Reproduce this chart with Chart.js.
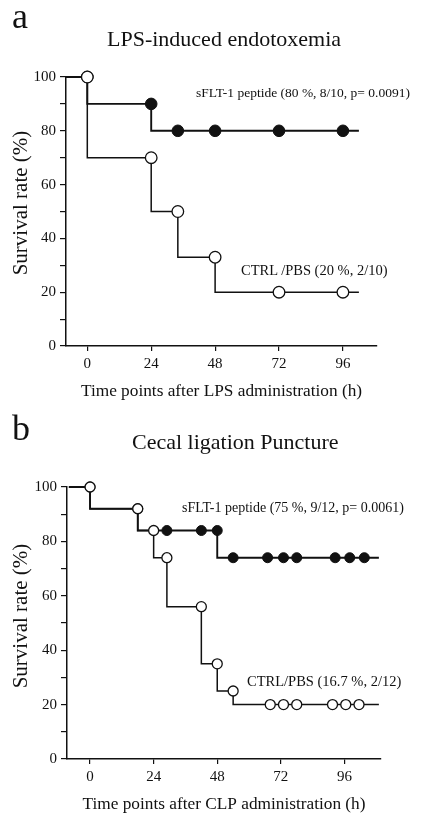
<!DOCTYPE html>
<html>
<head>
<meta charset="utf-8">
<script src="https://cdn.jsdelivr.net/npm/chart.js@4.4.1/dist/chart.umd.min.js"></script>
<style>
  body { margin: 0; background: #fff; }
  #page { position: relative; width: 430px; height: 813px; overflow: hidden;
          font-family: "Liberation Serif", "DejaVu Serif", serif; color: #111; }
  canvas { position: absolute; left: 0; }
  .txt { position: absolute; white-space: nowrap; line-height: 1; }
  .ytitle { position: absolute; left: 20px; white-space: nowrap; line-height: 1; font-size: 21px;
            transform: translate(-50%, -50%) rotate(-90deg); }
</style>
</head>
<body>
<div id="page">
  <canvas id="lpsChart" width="430" height="400" style="top:0"></canvas>
  <canvas id="clpChart" width="430" height="413" style="top:400px"></canvas>

  <div class="txt" style="left:12px;top:-2px;font-size:36px">a</div>
  <div class="txt" style="left:107px;top:28px;font-size:22px">LPS-induced endotoxemia</div>
  <div class="txt" style="left:196px;top:86px;font-size:13.5px">sFLT-1 peptide (80 %, 8/10, p= 0.0091)</div>
  <div class="txt" style="left:241px;top:263px;font-size:14.5px">CTRL /PBS (20 %, 2/10)</div>
  <div class="ytitle" style="top:203px">Survival rate (%)</div>

  <div class="txt" style="left:12px;top:410px;font-size:36px">b</div>
  <div class="txt" style="left:132px;top:431px;font-size:22px">Cecal ligation Puncture</div>
  <div class="txt" style="left:182px;top:501px;font-size:14px">sFLT-1 peptide (75 %, 9/12, p= 0.0061)</div>
  <div class="txt" style="left:247px;top:674px;font-size:14.5px">CTRL/PBS (16.7 %, 2/12)</div>
  <div class="ytitle" style="top:616px">Survival rate (%)</div>
</div>
<script>
const xTicks = [0, 24, 48, 72, 96];

// a: LPS-induced endotoxemia (step curves + censor marks)
const lpsPeptideTime = [-8, 0, 24, 102];
const lpsPeptideSurv = [100, 90, 80, 80];
const lpsCtrlTime = [-8, 0, 24, 34, 48, 102];
const lpsCtrlSurv = [100, 70, 50, 33, 20, 20];
const lpsPeptideMarkTime = [0, 24, 34, 48, 72, 96];
const lpsPeptideMarkSurv = [100, 90, 80, 80, 80, 80];
const lpsCtrlMarkTime = [0, 24, 34, 48, 72, 96];
const lpsCtrlMarkSurv = [100, 70, 50, 33, 20, 20];

// b: Cecal ligation puncture
const clpPeptideTime = [-8, 0, 18, 48, 109];
const clpPeptideSurv = [100, 92, 84, 74, 74];
const clpCtrlTime = [-8, 0, 18, 24, 29, 42, 48, 54, 109];
const clpCtrlSurv = [100, 92, 84, 74, 56, 35, 25, 20, 20];
const clpPeptideMarkTime = [0, 18, 29, 42, 48, 54, 67, 73, 78, 92.5, 98, 103.5];
const clpPeptideMarkSurv = [100, 92, 84, 84, 84, 74, 74, 74, 74, 74, 74, 74];
const clpCtrlMarkTime = [0, 18, 24, 29, 42, 48, 54, 68, 73, 78, 91.5, 96.5, 101.5];
const clpCtrlMarkSurv = [100, 92, 84, 74, 56, 35, 25, 20, 20, 20, 20, 20, 20];

const serif = "'Liberation Serif', 'DejaVu Serif', serif";
const ink = '#111';

function pts(xs, ys) {
    return xs.map((x, i) => ({ x: x, y: ys[i] }));
}

function survivalChart(id, c) {
    return new Chart(document.getElementById(id), {
        type: 'scatter',
        data: {
            datasets: [
                { // CTRL censor marks (open), drawn on top
                    data: pts(c.ctrlMarkT, c.ctrlMarkS),
                    pointRadius: c.r, backgroundColor: '#fff', borderColor: ink,
                    borderWidth: 1.3, clip: false, order: 0
                },
                { // peptide marks (filled)
                    data: pts(c.pepMarkT, c.pepMarkS),
                    pointRadius: c.r, backgroundColor: ink, borderColor: ink,
                    borderWidth: 1, clip: false, order: 1
                },
                {
                    data: pts(c.pepT, c.pepS), showLine: true, stepped: 'before',
                    pointRadius: 0, borderColor: ink, borderWidth: 1.9, clip: false, order: 2
                },
                {
                    data: pts(c.ctrlT, c.ctrlS), showLine: true, stepped: 'before',
                    pointRadius: 0, borderColor: ink, borderWidth: 1.5, clip: false, order: 3
                }
            ]
        },
        options: {
            responsive: false,
            animation: false,
            devicePixelRatio: 1,
            layout: { padding: { top: c.top, right: c.right, left: 0, bottom: 0 } },
            plugins: { legend: { display: false }, tooltip: { enabled: false } },
            scales: {
                x: {
                    type: 'linear', min: c.xMin, max: c.xMax,
                    afterBuildTicks: s => { s.ticks = xTicks.map(v => ({ value: v })); },
                    afterFit: s => { s.height = 54; },
                    ticks: { color: ink, font: { family: serif, size: 15 }, padding: 4, maxRotation: 0 },
                    grid: { display: true, drawOnChartArea: false, tickLength: 5, color: ink, lineWidth: 1.2 },
                    border: { display: true, color: ink, width: 1.5 },
                    title: {
                        display: true, text: c.xTitle, color: ink,
                        font: { family: serif, size: 17.3, lineHeight: 1 }, padding: { top: 0, bottom: c.xTitlePad }
                    }
                },
                y: {
                    min: 0, max: 100,
                    afterFit: s => { s.width = c.yWidth; },
                    ticks: {
                        stepSize: 10, color: ink, padding: 4,
                        font: { family: serif, size: 15 },
                        callback: v => (v % 20 === 0 ? v : '')
                    },
                    grid: { display: true, drawOnChartArea: false, tickLength: 6, color: ink, lineWidth: 1.2 },
                    border: { display: true, color: ink, width: 1.5 },
                    title: { display: false }
                }
            }
        }
    });
}

survivalChart('lpsChart', {
    pepT: lpsPeptideTime, pepS: lpsPeptideSurv,
    ctrlT: lpsCtrlTime, ctrlS: lpsCtrlSurv,
    pepMarkT: lpsPeptideMarkTime, pepMarkS: lpsPeptideMarkSurv,
    ctrlMarkT: lpsCtrlMarkTime, ctrlMarkS: lpsCtrlMarkSurv,
    r: 5.8, top: 77, right: 53, yWidth: 66, xMin: -8, xMax: 108.8,
    xTitle: 'Time points after LPS administration (h)', xTitlePad: 0
});

survivalChart('clpChart', {
    pepT: clpPeptideTime, pepS: clpPeptideSurv,
    ctrlT: clpCtrlTime, ctrlS: clpCtrlSurv,
    pepMarkT: clpPeptideMarkTime, pepMarkS: clpPeptideMarkSurv,
    ctrlMarkT: clpCtrlMarkTime, ctrlMarkS: clpCtrlMarkSurv,
    r: 5, top: 87, right: 49, yWidth: 67, xMin: -8.7, xMax: 109.8,
    xTitle: 'Time points after CLP administration (h)', xTitlePad: 0
});
</script>
</body>
</html>
